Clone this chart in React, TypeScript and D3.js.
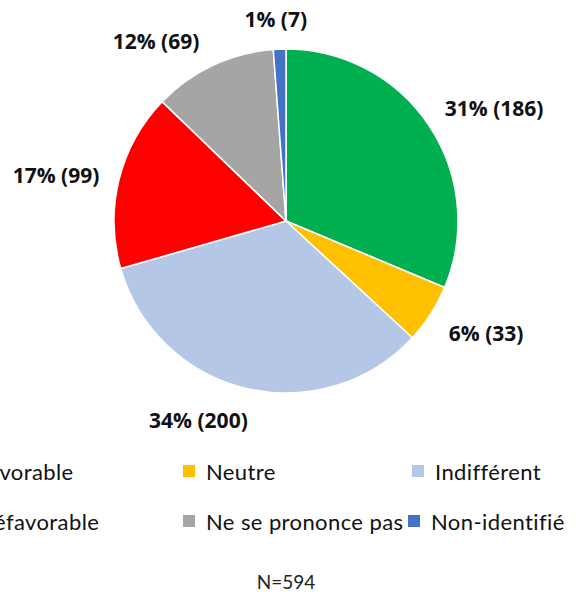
import React from "react";
import * as d3 from "d3";

const categories = ["Favorable", "Neutre", "Indifférent", "Défavorable", "Ne se prononce pas", "Non-identifié"];
const counts = [186, 33, 200, 99, 69, 7];
const percents = [31, 6, 34, 17, 12, 1];
const colors = ["#00B050", "#FFC000", "#B4C7E7", "#FF0000", "#A5A5A5", "#4472C4"];
const totalLabel = "N=594";

// layout nudges for the outside labels (px)
const labelNudge: [number, number][] = [
  [22, 11], [12, -9], [-36, -19], [-13, 8], [-35, 22], [-2, 21],
];
// legend grid slots [column x, row y]
const legendSlots: [number, number][] = [
  [-46, 472], [183, 472], [412, 472], [-46, 522], [183, 522], [408, 522],
];

export default function App() {
  const W = 576, H = 595;
  const cx = 286, cy = 221, r = 172;
  const pie = d3.pie<number>().sort(null).value((d) => d);
  const arcs = pie(counts);
  const arc = d3.arc<d3.PieArcDatum<number>>().innerRadius(0).outerRadius(r);
  const labelArc = d3.arc<d3.PieArcDatum<number>>().innerRadius(r * 1.3).outerRadius(r * 1.3);

  return (
    <svg width={W} height={H} style={{ position: "absolute", left: 0, top: 0, background: "#fff" }}>
      <g transform={`translate(${cx},${cy})`}>
        {arcs.map((a, i) => (
          <path key={i} d={arc(a) || ""} fill={colors[i]} stroke="#fff" strokeWidth={1.5} />
        ))}
        {arcs.map((a, i) => {
          const [x, y] = labelArc.centroid(a);
          return (
            <text
              key={"l" + i}
              x={x + labelNudge[i][0]}
              y={y + labelNudge[i][1]}
              textAnchor="middle"
              dominantBaseline="central"
              fontFamily="'Open Sans', sans-serif"
              fontWeight={700}
              fontSize={21}
              fill="#111"
            >
              {`${percents[i]}% (${counts[i]})`}
            </text>
          );
        })}
      </g>
      {categories.map((c, i) => {
        const [lx, ly] = legendSlots[i];
        return (
          <g key={"g" + i} transform={`translate(${lx},${ly})`}>
            <rect x={0} y={-7} width={12} height={12} fill={colors[i]} />
            <text
              x={23}
              y={8}
              fontFamily="Lato, sans-serif"
              fontWeight={400}
              fontSize={22}
              letterSpacing={0.4}
              fill="#111"
            >
              {c}
            </text>
          </g>
        );
      })}
      <text
        x={cx}
        y={589}
        textAnchor="middle"
        fontFamily="Lato, sans-serif"
        fontSize={19}
        fill="#222"
      >
        {totalLabel}
      </text>
    </svg>
  );
}
